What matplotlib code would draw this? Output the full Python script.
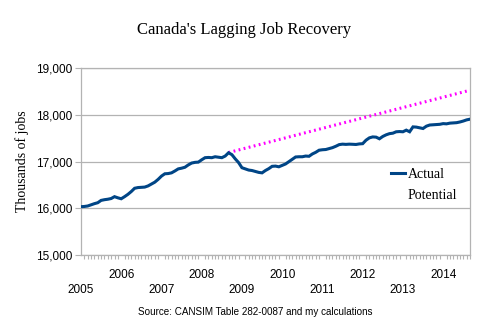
import matplotlib
matplotlib.use("Agg")
import matplotlib.pyplot as plt
from matplotlib.lines import Line2D
from matplotlib.ticker import FuncFormatter, MultipleLocator
import numpy as np

# monthly employment, thousands (Jan 2005 .. Sep 2014)
actual = [
    16035, 16040, 16050, 16075, 16100, 16120, 16170, 16185, 16195, 16210, 16250, 16225,  # 2005
    16205, 16250, 16300, 16360, 16430, 16445, 16450, 16455, 16480, 16520, 16560, 16620,  # 2006
    16690, 16740, 16745, 16760, 16800, 16845, 16860, 16880, 16930, 16970, 16985, 16990,  # 2007
    17040, 17085, 17090, 17085, 17105, 17095, 17085, 17120, 17190, 17150, 17060, 16980,  # 2008
    16870, 16845, 16820, 16810, 16790, 16770, 16760, 16810, 16850, 16900, 16905, 16890,  # 2009
    16920, 16950, 17000, 17050, 17100, 17105, 17105, 17120, 17115, 17165, 17200, 17245,  # 2010
    17255, 17260, 17280, 17300, 17330, 17365, 17375, 17370, 17375, 17372, 17368, 17380,  # 2011
    17385, 17460, 17510, 17530, 17525, 17490, 17540, 17575, 17600, 17610, 17640, 17645,  # 2012
    17640, 17675, 17640, 17745, 17740, 17725, 17710, 17760, 17785, 17790, 17795, 17800,  # 2013
    17815, 17810, 17825, 17830, 17835, 17850, 17870, 17895, 17910,                       # 2014
]
# potential path: from the Sep 2008 peak to Sep 2014
potential_months = [44, 116]
potential = [17195, 18530]

years = list(range(2005, 2015))
title = "Canada's Lagging Job Recovery"
source = "Source: CANSIM Table 282-0087 and my calculations"

grid_c = "#b3b3b3"

fig = plt.figure(figsize=(4.89, 3.29), dpi=100)
ax = fig.add_axes([0.1656, 0.2249, 0.7955, 0.5675])

months = np.arange(len(actual))
ax.plot(months, actual, color="#004586", lw=2.2, solid_joinstyle="miter", zorder=3)
ax.plot(potential_months, potential, color="#ff00ff", lw=2.2,
        linestyle=(0, (0.6, 1.1)), zorder=2)

ax.set_xlim(0, len(actual) - 1)
ax.set_ylim(15000, 19000)
ax.yaxis.set_major_locator(MultipleLocator(1000))
ax.yaxis.set_major_formatter(FuncFormatter(lambda v, p: f"{int(v):,}"))
ax.grid(axis="y", color=grid_c, lw=0.9)
ax.set_axisbelow(True)
for s in ax.spines.values():
    s.set_color(grid_c)
    s.set_linewidth(0.9)

ax.set_xticks([12 * i for i in range(len(years))])
ax.set_xticklabels([str(y) if y % 2 == 0 else "\n" + str(y) for y in years],
                   linespacing=1.3)
ax.set_xticks(months, minor=True)
ax.tick_params(axis="x", which="both", length=3, color=grid_c, width=0.8,
               labelsize=8.5)
ax.tick_params(axis="x", which="major", length=0, pad=10)
ax.tick_params(axis="y", length=4, color=grid_c, width=0.8, labelsize=8.5, pad=2)
for lab in ax.get_xticklabels() + ax.get_yticklabels():
    lab.set_family("Liberation Sans")

ax.set_ylabel("Thousands of jobs", family="Liberation Serif", fontsize=10, labelpad=5)

handles = [Line2D([], [], color="#004586", lw=2.2),
           Line2D([], [], color="none")]
ax.legend(handles, ["Actual", "Potential"], loc="center left",
          bbox_to_anchor=(0.765, 0.375), frameon=False,
          prop={"family": "Liberation Serif", "size": 10},
          handlelength=1.0, handletextpad=0.2, labelspacing=0.6)

fig.text(0.5, 0.908, title, ha="center", va="center",
         family="Liberation Serif", fontsize=12)
fig.text(0.523, 0.052, source, ha="center", va="center",
         family="Liberation Sans", fontsize=7.1)

fig.savefig("out.png", dpi=100)
